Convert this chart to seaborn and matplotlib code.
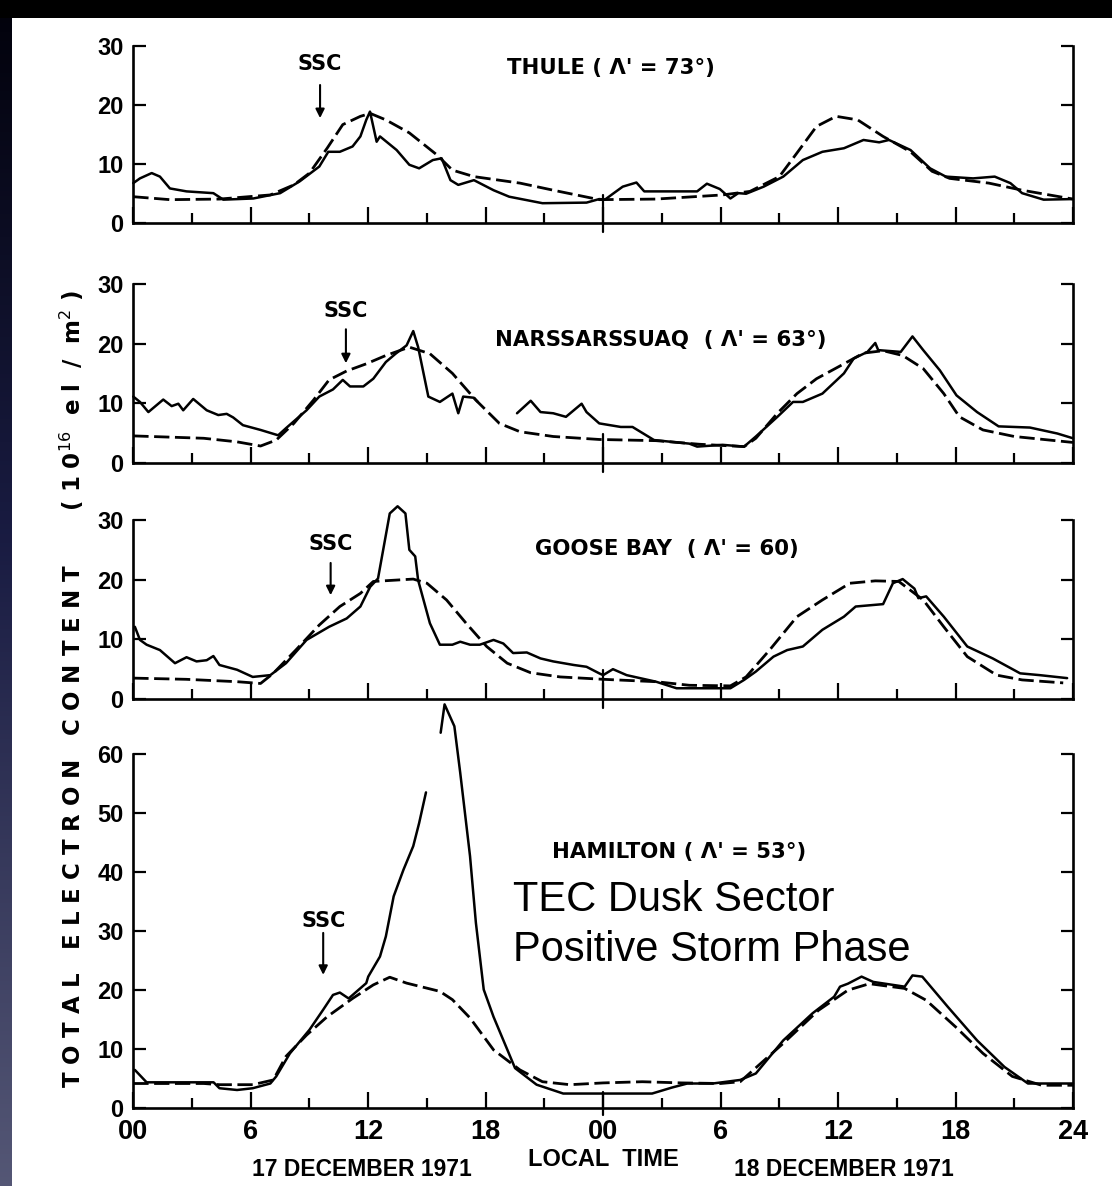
import numpy as np
import pandas as pd
import matplotlib
matplotlib.use("Agg")
import matplotlib.pyplot as plt
from matplotlib.patches import Rectangle
import seaborn as sns

# ---------------- data (hours from 00 LT on 17 Dec 1971, TEC in 1e16 el/m^2) -------------
thule_obs_h = [0, 0.34, 0.94, 1.36, 1.87, 2.72, 4.09, 4.6, 6.13, 7.5, 8.5, 9.5, 9.96, 10.55,
               11.2, 11.6, 11.9, 12.09, 12.43, 12.6, 13.45, 14.1, 14.6, 15.3, 15.75, 16.2,
               16.6, 17.4, 18.4, 19.2, 20.9, 23.15, 23.8, 24.09, 24.5, 25.0, 25.7, 26.1,
               28.8, 29.3, 29.96, 30.5, 30.9, 31.3, 32.2, 33.2, 34.2, 35.2, 36.3, 37.3,
               38.1, 38.6, 39.7, 40.7, 41.5, 42.9, 44.0, 44.8, 45.4, 46.5, 48]
thule_obs_v = [6.8, 7.6, 8.5, 7.9, 5.9, 5.4, 5.1, 4.0, 4.2, 5.1, 7.1, 9.6, 12.1, 12.1,
               13.0, 14.7, 17.5, 18.9, 13.8, 14.7, 12.4, 9.9, 9.3, 10.7, 11.0, 7.3,
               6.5, 7.3, 5.6, 4.5, 3.4, 3.5, 4.1, 4.0, 5.0, 6.2, 6.9, 5.4,
               5.4, 6.7, 5.8, 4.2, 5.1, 5.0, 6.2, 7.9, 10.7, 12.1, 12.7, 14.1,
               13.7, 14.1, 12.4, 9.3, 7.9, 7.6, 7.9, 6.8, 5.1, 4.0, 4.1]
thule_ref_h = [0, 1.87, 4.4, 7.0, 8.2, 9.0, 9.9, 10.7, 11.6, 12.1, 12.9, 14.1, 15.5, 16.3,
               17.4, 19.75, 21.45, 23.8, 26.7, 30.1, 31.5, 33.0, 33.9, 34.9, 35.9, 37.0,
               38.3, 39.7, 40.8, 41.7, 43.7, 45.4, 48]
thule_ref_v = [4.5, 4.0, 4.1, 4.8, 6.5, 8.5, 12.7, 16.7, 18.1, 18.6, 17.5, 15.3, 11.6, 9.0,
               7.9, 6.8, 5.6, 4.0, 4.1, 4.8, 5.4, 7.9, 11.9, 16.4, 18.1, 17.5,
               14.7, 12.1, 8.8, 7.6, 6.8, 5.6, 4.1]

nars_obs1_h = [0, 0.34, 0.77, 1.53, 1.96, 2.3, 2.55, 3.06, 3.75, 4.34, 4.77, 5.1, 5.6, 6.5,
               7.4, 7.8, 8.85, 9.5, 10.2, 10.7, 11.07, 11.75, 12.26, 12.9, 13.4, 13.96,
               14.3, 14.55, 15.07, 15.66, 16.3, 16.6, 16.85, 17.4, 17.6]
nars_obs1_v = [11.1, 10.2, 8.5, 10.6, 9.5, 9.9, 8.8, 10.7, 8.8, 8.0, 8.2, 7.6, 6.3, 5.5,
               4.6, 5.8, 8.8, 11.1, 12.3, 13.9, 12.8, 12.8, 14.1, 16.9, 18.3, 19.7,
               22.1, 19.4, 11.1, 10.2, 11.6, 8.3, 11.1, 10.9, 10.2]
nars_obs2_h = [19.6, 20.3, 20.8, 21.45, 22.1, 22.9, 23.15, 23.8, 24.9, 25.5, 26.6, 28.4,
               28.8, 30.1, 31.2, 31.8, 32.9, 33.7, 34.2, 35.2, 36.3, 36.8, 37.5, 37.9,
               38.05, 39.2, 39.8, 40.35, 41.2, 42.05, 43.1, 44.2, 45.8, 47.2, 48]
nars_obs2_v = [8.3, 10.4, 8.5, 8.3, 7.7, 9.9, 8.5, 6.6, 6.0, 6.0, 3.8, 3.2,
               2.7, 3.0, 2.7, 4.4, 7.7, 10.2, 10.2, 11.6, 15.0, 17.5, 18.6, 20.1,
               18.9, 18.6, 21.2, 18.9, 15.5, 11.3, 8.5, 6.1, 5.9, 4.9, 4.1]
nars_ref_h = [0, 3.6, 5.3, 6.5, 7.3, 8.2, 9.2, 10.0, 10.9, 11.9, 12.9, 14.1, 15.15, 16.3,
              17.5, 18.7, 19.75, 21.45, 23.8, 26.7, 28.9, 31.2, 31.8, 32.9, 33.9, 34.9,
              36.3, 37.3, 38.3, 39.3, 40.35, 41.4, 42.2, 43.4, 45.0, 48]
nars_ref_v = [4.5, 4.1, 3.5, 2.8, 3.8, 6.6, 10.5, 13.9, 15.4, 16.6, 18.0, 19.4, 18.3, 15.0,
              10.5, 6.6, 5.2, 4.4, 3.9, 3.7, 3.1, 2.7, 4.1, 8.3, 11.6, 14.1,
              16.6, 18.4, 18.8, 18.0, 15.8, 11.6, 7.7, 5.5, 4.4, 3.4]

goose_obs_h = [0.08, 0.34, 0.68, 1.36, 2.13, 2.72, 3.23, 3.75, 4.09, 4.4, 5.3, 6.1, 7.0, 7.8,
               8.85, 10.0, 10.9, 11.6, 12.1, 12.5, 13.1, 13.5, 13.9, 14.1, 14.4, 14.55,
               15.15, 15.66, 16.3, 16.7, 17.2, 17.7, 18.4, 18.9, 19.4, 20.1, 20.8, 21.45,
               22.5, 23.15, 23.8, 24.0, 24.5, 25.2, 26.7, 27.75, 30.5, 31.2, 31.8, 32.7,
               33.4, 34.2, 35.2, 36.3, 36.9, 38.3, 38.8, 39.3, 39.9, 40.1, 40.5, 41.4,
               42.6, 43.9, 45.3, 46.3, 47.7]
goose_obs_v = [12.1, 9.9, 9.1, 8.2, 6.0, 7.0, 6.3, 6.5, 7.2, 5.7, 4.9, 3.7, 4.0, 6.0,
               9.9, 12.1, 13.5, 15.5, 18.8, 20.2, 31.1, 32.3, 31.1, 25.0, 23.9, 19.9,
               12.7, 9.1, 9.1, 9.6, 9.1, 9.1, 9.9, 9.3, 7.7, 7.8, 6.8, 6.3,
               5.7, 5.4, 4.3, 4.0, 5.0, 4.0, 2.9, 1.8, 1.8, 3.2, 4.6, 7.1,
               8.2, 8.8, 11.6, 13.8, 15.5, 15.9, 19.4, 20.1, 18.5, 16.9, 17.2, 13.8,
               8.8, 6.8, 4.3, 4.0, 3.5]
goose_ref_h = [0, 2.7, 5.3, 6.5, 7.15, 8.3, 9.5, 10.55, 11.6, 12.26, 14.3, 15.0, 16.0, 17.0,
               18.05, 19.1, 20.3, 21.8, 24.0, 26.7, 28.4, 30.5, 31.3, 32.5, 33.9, 35.2,
               36.6, 37.9, 39.1, 40.35, 41.4, 42.6, 44.1, 45.4, 47.5]
goose_ref_v = [3.5, 3.3, 2.9, 2.6, 4.3, 8.2, 12.4, 15.5, 17.7, 19.7, 20.1, 19.4, 16.6, 12.7,
               8.8, 6.0, 4.4, 3.7, 3.3, 2.9, 2.3, 2.2, 3.7, 8.2, 13.8, 16.6,
               19.4, 19.8, 19.7, 16.6, 12.1, 7.1, 4.0, 3.2, 2.7]

ham_obs1_h = [0.08, 0.68, 4.1, 4.4, 5.3, 6.1, 7.0, 7.3, 8.0, 9.0, 9.7, 10.2, 10.55, 11.0,
              11.9, 12.0, 12.6, 12.9, 13.3, 13.8, 14.3, 14.6, 14.95]
ham_obs1_v = [6.5, 4.4, 4.4, 3.4, 3.1, 3.4, 4.2, 5.4, 9.3, 13.3, 16.7, 19.2, 19.6, 18.6,
              21.2, 22.3, 25.7, 29.1, 35.9, 40.4, 44.4, 48.3, 53.5]
ham_obs2_h = [15.7, 15.9, 16.4, 16.7, 17.2, 17.5, 17.9, 18.4, 19.5, 20.6, 21.96, 26.5, 27.5,
              28.3, 29.6, 31.0, 31.8, 33.2, 34.7, 35.8, 36.1, 36.5, 37.2, 37.8, 39.4,
              39.8, 40.3, 41.6, 43.1, 44.5, 45.7, 48]
ham_obs2_v = [63.6, 68.4, 64.7, 56.8, 42.7, 31.4, 20.1, 15.5, 6.8, 4.0, 2.5, 2.5, 3.5,
              4.2, 4.2, 4.8, 5.9, 11.5, 16.1, 18.9, 20.6, 21.1, 22.3, 21.4, 20.6,
              22.5, 22.3, 17.2, 11.5, 7.0, 4.2, 4.2]
ham_ref_h = [0, 3.6, 4.4, 6.1, 7.15, 7.8, 8.85, 9.9, 11.2, 12.26, 13.1, 13.96, 15.66, 16.3,
             17.2, 18.4, 19.75, 20.9, 22.3, 24.0, 26.0, 28.0, 30.0, 31.0, 33.2, 35.0,
             36.5, 37.6, 39.4, 40.5, 42.0, 43.4, 44.9, 46.4, 48]
ham_ref_v = [4.2, 4.2, 4.0, 4.0, 4.8, 8.8, 12.4, 15.5, 18.6, 20.9, 22.2, 21.2, 19.8, 18.4,
             15.3, 9.9, 6.5, 4.5, 4.0, 4.3, 4.5, 4.3, 4.2, 4.5, 11.0, 16.6,
             20.0, 21.1, 20.3, 18.3, 13.8, 9.3, 5.4, 3.9, 3.9]

station_titles = ["THULE ( Λ' = 73°)", "NARSSARSSUAQ  ( Λ' = 63°)",
                  "GOOSE BAY  ( Λ' = 60)", "HAMILTON ( Λ' = 53°)"]
title_pos = [(19.1, 26.3), (18.5, 20.6), (20.5, 25.1), (21.4, 43.4)]
ssc_hour = [9.54, 10.86, 10.08, 9.7]
ssc_tip = [17.8, 16.7, 17.4, 22.6]
ssc_top = [23.4, 22.4, 22.8, 29.7]
ssc_text = [27.0, 25.4, 26.0, 31.7]
x_ticks = [0, 6, 12, 18, 24, 30, 36, 42, 48]
x_ticklabels = ["00", "6", "12", "18", "00", "6", "12", "18", "24"]

# ---------------- style -------------
sns.set_theme(style="ticks")
plt.rcParams["font.family"] = ["DejaVu Sans"]
for key in ["text.color", "axes.labelcolor", "xtick.color", "ytick.color", "axes.edgecolor"]:
    plt.rcParams[key] = "black"
NUMFONT = ["Liberation Sans", "DejaVu Sans"]

fig = plt.figure(figsize=(11.12, 11.86), dpi=100, facecolor="white")

W, H = 1112.0, 1186.0
x0, x1 = 133.3 / W, 1073.0 / W
panels = [(46.0, 223.3, 30), (284.0, 462.7, 30), (520.0, 699.0, 30), (754.0, 1108.3, 60)]

obs_series = [[(thule_obs_h, thule_obs_v)],
              [(nars_obs1_h, nars_obs1_v), (nars_obs2_h, nars_obs2_v)],
              [(goose_obs_h, goose_obs_v)],
              [(ham_obs1_h, ham_obs1_v), (ham_obs2_h, ham_obs2_v)]]
ref_series = [(thule_ref_h, thule_ref_v), (nars_ref_h, nars_ref_v),
              (goose_ref_h, goose_ref_v), (ham_ref_h, ham_ref_v)]

LW = 1.8
axes = []
for i, (top_px, bot_px, ymax) in enumerate(panels):
    ax = fig.add_axes([x0, 1 - bot_px / H, x1 - x0, (bot_px - top_px) / H])
    axes.append(ax)
    ax.set_facecolor("none")
    for h, v in obs_series[i]:
        df = pd.DataFrame({"hour": h, "tec": v})
        sns.lineplot(data=df, x="hour", y="tec", ax=ax, color="black", lw=LW,
                     estimator=None, sort=False, clip_on=False, zorder=3)
    rh, rv = ref_series[i]
    dfr = pd.DataFrame({"hour": rh, "tec": rv})
    sns.lineplot(data=dfr, x="hour", y="tec", ax=ax, color="black", lw=LW + 0.2,
                 estimator=None, sort=False, linestyle=(0, (5.5, 2.0)), clip_on=False, zorder=3)

    ax.set_xlim(0, 48)
    ax.set_ylim(0, ymax)
    ax.set_xlabel("")
    ax.set_ylabel("")
    ax.spines["top"].set_visible(False)
    for s in ["left", "right", "bottom"]:
        ax.spines[s].set_linewidth(1.9)
        ax.spines[s].set_color("black")
    ax.set_yticks(np.arange(0, ymax + 1, 10))
    ax.tick_params(axis="y", which="major", direction="in", left=True, right=True,
                   length=9, width=1.6, pad=7, labelsize=17)
    for lab in ax.get_yticklabels():
        lab.set_fontfamily(NUMFONT)
        lab.set_fontweight("bold")
    ax.set_xticks(x_ticks)
    ax.set_xticks(np.arange(3, 48, 6), minor=True)
    ax.tick_params(axis="x", which="major", direction="in", bottom=True, length=11.5,
                   width=1.6, pad=8, labelsize=19.5)
    ax.tick_params(axis="x", which="minor", direction="in", bottom=True, length=7.5, width=1.6)
    if i < 3:
        ax.set_xticklabels([])
        ax.axvline(24, ymin=-0.05, ymax=0.16, color="black", lw=1.6, clip_on=False)
    else:
        ax.set_xticklabels(x_ticklabels)
        for lab in ax.get_xticklabels():
            lab.set_fontfamily(NUMFONT)
            lab.set_fontweight("bold")
        ax.axvline(24, ymin=-0.02, ymax=0.045, color="black", lw=1.6, clip_on=False)

    tx, ty = title_pos[i]
    ax.text(tx, ty, station_titles[i], fontsize=15.3, fontweight="bold", ha="left", va="center")
    ax.text(ssc_hour[i], ssc_text[i], "SSC",
            fontsize=15, fontweight="bold", ha="center", va="center")
    ax.annotate("", xy=(ssc_hour[i], ssc_tip[i]), xytext=(ssc_hour[i], ssc_top[i]),
                arrowprops=dict(arrowstyle="-|>", color="black", lw=1.5,
                                mutation_scale=13, shrinkA=0, shrinkB=0))

ax4 = axes[3]
ax4.text(19.4, 33.4, "TEC Dusk Sector", fontsize=30, family="Liberation Sans",
         color="black", ha="left", va="baseline")
ax4.text(19.4, 24.9, "Positive Storm Phase", fontsize=30, family="Liberation Sans",
         color="black", ha="left", va="baseline")
xt = ax4.get_xaxis_transform()
ax4.text(11.7, -0.174, "17 DECEMBER 1971", transform=xt, fontsize=16.5, family=NUMFONT,
         fontweight="bold", ha="center", va="center")
ax4.text(24.0, -0.145, "LOCAL  TIME", transform=xt, fontsize=17, family=NUMFONT,
         fontweight="bold", ha="center", va="center")
ax4.text(36.3, -0.174, "18 DECEMBER 1971", transform=xt, fontsize=16.5, family=NUMFONT,
         fontweight="bold", ha="center", va="center")

fig.text(0.065, 0.419,
         "T O T A L   E L E C T R O N   C O N T E N T       ( 1 0$^{16}$  e l  /  m$^2$ )",
         rotation=90, fontsize=16.5, fontweight="bold", ha="center", va="center")

# dark slide border (top band and left gradient strip)
fig.add_artist(Rectangle((0, 1 - 18 / H), 1, 18 / H, transform=fig.transFigure,
                         facecolor="black", edgecolor="none", zorder=10))
gax = fig.add_axes([0, 0, 12 / W, 1 - 18 / H])
grad = np.linspace(0, 1, 256)
cols = np.array([[0.01, 0.01, 0.05], [0.10, 0.11, 0.26], [0.33, 0.34, 0.46]])
img = np.zeros((256, 1, 3))
for c in range(3):
    img[:, 0, c] = np.interp(grad, [0, 0.45, 1], cols[:, c])
gax.imshow(img, aspect="auto", extent=[0, 1, 0, 1], origin="upper")
gax.axis("off")

fig.savefig("out.png", dpi=100, facecolor="white")
